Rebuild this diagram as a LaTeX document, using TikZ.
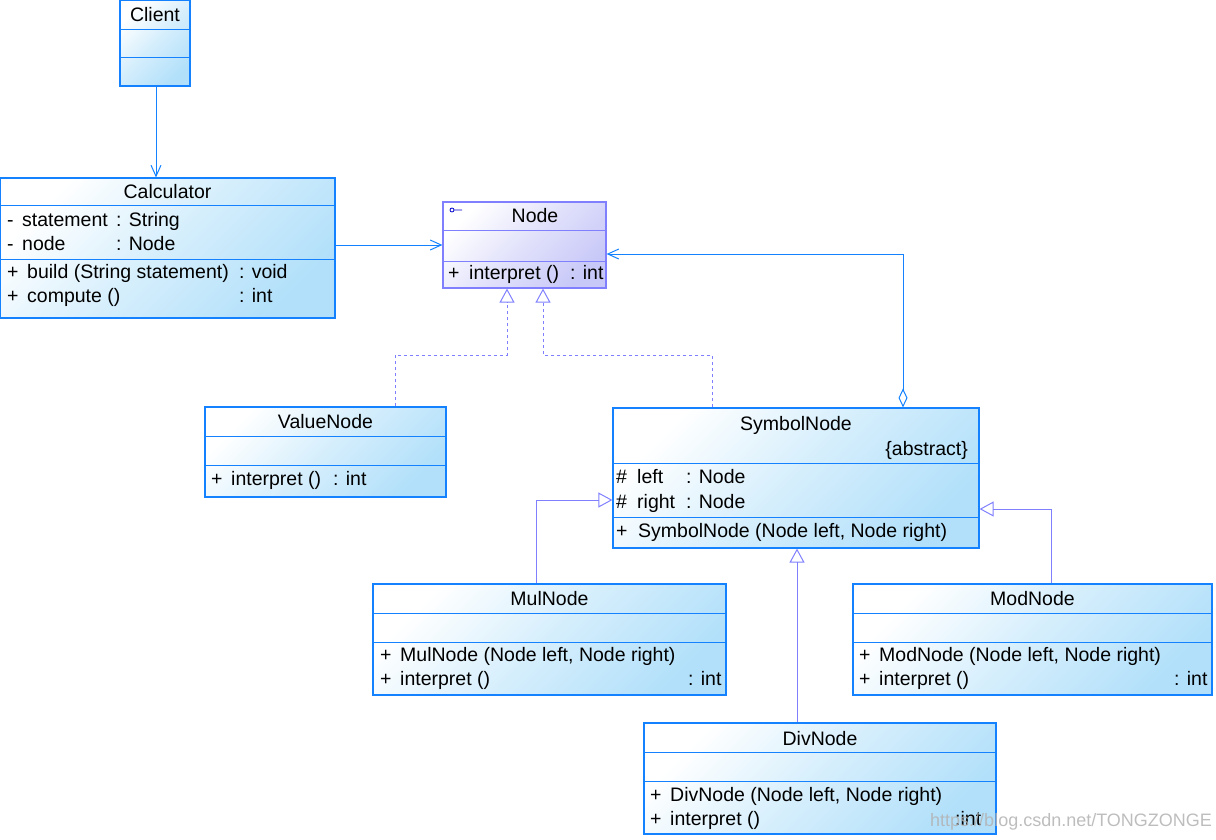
\documentclass[tikz,border=0pt]{standalone}
\usepackage{fontspec}
\setmainfont{Liberation Sans}
\usetikzlibrary{arrows.meta}

\definecolor{clsline}{RGB}{20,130,255}
\definecolor{clsfill}{RGB}{178,224,250}
\definecolor{ifline}{RGB}{128,128,255}
\definecolor{iffill}{RGB}{200,200,248}

\tikzset{
  classbox/.style={draw=clsline, line width=1.2pt, top color=white, bottom color=clsfill, middle color=clsfill!55, shading angle=45, inner sep=0pt},
  ifbox/.style={draw=ifline, line width=1.2pt, top color=white, bottom color=iffill, middle color=iffill!55, shading angle=45, inner sep=0pt},
  sepline/.style={draw=clsline, line width=1pt},
  ifsep/.style={draw=ifline, line width=1pt},
  title/.style={anchor=base, inner sep=0pt},
  row/.style={anchor=base west, inner sep=0pt},
  assoc/.style={draw=clsline, line width=1pt, -{Straight Barb[length=11pt,width=10pt]}},
  aggr/.style={draw=clsline, line width=1pt, {Diamond[open,length=19pt,width=9pt]}-{Straight Barb[length=11pt,width=10pt]}},
  gener/.style={draw=ifline, line width=1pt, -{Triangle[open,length=14pt,width=15pt]}},
  realize/.style={gener, dash pattern=on 3pt off 3pt}
}

\begin{document}
\begin{tikzpicture}[x=1pt, y=-1pt, font=\fontsize{19.5}{22}\selectfont]
    \useasboundingbox (0,0) rectangle (1216,839);

    % class boxes
    \node[classbox, minimum width=70pt, minimum height=86pt] (client) at (155,43) {};
    \node[classbox, minimum width=335pt, minimum height=140pt] (calc) at (167.5,248) {};
    \node[ifbox, minimum width=163pt, minimum height=86pt] (inode) at (524.5,245) {};
    \node[classbox, minimum width=241pt, minimum height=90pt] (value) at (325.5,452) {};
    \node[classbox, minimum width=366pt, minimum height=140pt] (symbol) at (796,478) {};
    \node[classbox, minimum width=353pt, minimum height=111pt] (mul) at (549.5,639.5) {};
    \node[classbox, minimum width=359pt, minimum height=111pt] (mod) at (1032.5,639.5) {};
    \node[classbox, minimum width=352pt, minimum height=111pt] (div) at (820,778.5) {};

    % compartments
    \draw[sepline] (120,29) -- (190,29);
    \draw[sepline] (120,57) -- (190,57);
    \draw[sepline] (0,205) -- (335,205);
    \draw[sepline] (0,259) -- (335,259);
    \draw[ifsep] (443,230) -- (606,230);
    \draw[ifsep] (443,261) -- (606,261);
    \draw[sepline] (205,436) -- (446,436);
    \draw[sepline] (205,465) -- (446,465);
    \draw[sepline] (613,463) -- (979,463);
    \draw[sepline] (613,517) -- (979,517);
    \draw[sepline] (373,613) -- (726,613);
    \draw[sepline] (373,642) -- (726,642);
    \draw[sepline] (853,613) -- (1212,613);
    \draw[sepline] (853,642) -- (1212,642);
    \draw[sepline] (644,752) -- (996,752);
    \draw[sepline] (644,781) -- (996,781);

    % texts
    \node[title] (client-t) at (155,21) {Client};

    \node[title] (calc-t) at (167.5,198) {Calculator};
    \node[row] (calc-a1) at (7,226) {\makebox[15pt][l]{-}\makebox[94pt][l]{statement}: String};
    \node[row] (calc-a2) at (7,250) {\makebox[15pt][l]{-}\makebox[94pt][l]{node}: Node};
    \node[row] (calc-o1) at (7,278) {\makebox[20pt][l]{+}\makebox[212pt][l]{build (String statement)}: void};
    \node[row] (calc-o2) at (7,302) {\makebox[20pt][l]{+}\makebox[212pt][l]{compute ()}: int};

    \draw[blue!80!black, line width=0.8pt] (452,210) circle[radius=2pt] (454,210) -- (462,210);
    \node[title] (inode-t) at (535,222) {Node};
    \node[row] (inode-o1) at (448,279) {\makebox[21pt][l]{+}\makebox[101pt][l]{interpret ()}: int};

    \node[title] (value-t) at (325.5,428) {ValueNode};
    \node[row] (value-o1) at (211,485) {\makebox[20pt][l]{+}\makebox[102pt][l]{interpret ()}: int};

    \node[title] (symbol-t) at (796,430) {SymbolNode};
    \node[anchor=base east, inner sep=0pt] (symbol-s) at (968,455) {\{abstract\}};
    \node[row] (symbol-a1) at (616,483) {\makebox[21pt][l]{\#}\makebox[49pt][l]{left}: Node};
    \node[row] (symbol-a2) at (616,508) {\makebox[21pt][l]{\#}\makebox[49pt][l]{right}: Node};
    \node[row] (symbol-o1) at (616,537) {\makebox[22pt][l]{+}SymbolNode (Node left, Node right)};

    \node[title] (mul-t) at (549.5,605) {MulNode};
    \node[row] (mul-o1) at (380,661) {\makebox[20pt][l]{+}MulNode (Node left, Node right)};
    \node[row] (mul-o2) at (380,685) {\makebox[20pt][l]{+}\makebox[288pt][l]{interpret ()}: int};

    \node[title] (mod-t) at (1032.5,605) {ModNode};
    \node[row] (mod-o1) at (859,661) {\makebox[20pt][l]{+}ModNode (Node left, Node right)};
    \node[row] (mod-o2) at (859,685) {\makebox[20pt][l]{+}\makebox[295pt][l]{interpret ()}: int};

    \node[title] (div-t) at (820,745) {DivNode};
    \node[row] (div-o1) at (650,801) {\makebox[20pt][l]{+}DivNode (Node left, Node right)};
    \node[row] (div-o2) at (650,825) {\makebox[20pt][l]{+}\makebox[285pt][l]{interpret ()}:int};

    % connectors
    \draw[assoc] (client.south -| 156,0) -- (calc.north -| 156,0);
    \draw[assoc] (calc.east |- inode.west) -- (inode.west);
    \draw[realize] (value.north -| 395,0) |- (507,355) -- (inode.south -| 507,0);
    \draw[realize] (symbol.north -| 712,0) |- (543,355) -- (inode.south -| 543,0);
    \draw[aggr] (symbol.north -| 903,0) -- (903,254) -- (inode.east |- 0,254);
    \draw[gener] (mul.north -| 536,0) |- (symbol.west |- 0,500);
    \draw[gener] (mod.north -| 1051,0) |- (symbol.east |- 0,509);
    \draw[gener] (div.north -| 797,0) -- (symbol.south -| 797,0);

    \node[anchor=base west, inner sep=0pt, text=black!30, text opacity=0.85, font=\fontsize{18}{20}\selectfont] (mark) at (930,826) {https://blog.csdn.net/TONGZONGE};
\end{tikzpicture}
\end{document}
